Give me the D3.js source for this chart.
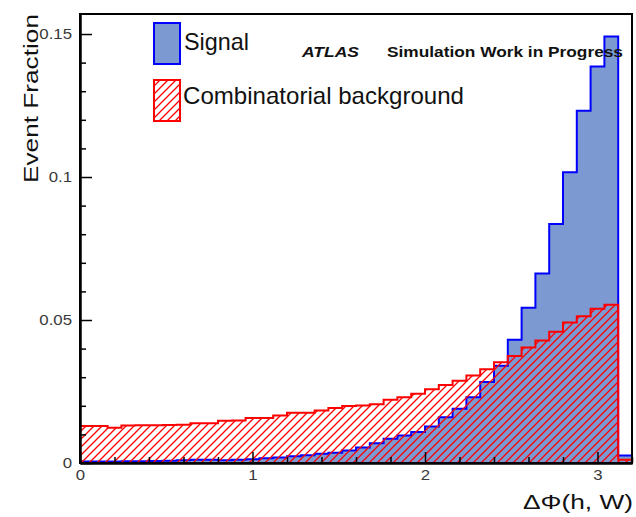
<!DOCTYPE html>
<html>
<head>
<meta charset="utf-8">
<script src="https://cdn.jsdelivr.net/npm/d3@7"></script>
<style>
  html, body { margin: 0; padding: 0; background: #fff; }
  svg { display: block; font-family: "Liberation Sans", Arial, Helvetica, sans-serif; }
</style>
</head>
<body>
<svg id="chart" width="636" height="517"></svg>
<script>
// Histogram binning: 40 bins of width 0.08 over [0, 3.2]
const xMin = 0;
const xMax = 3.2;
const nBins = 40;

// Normalised event fraction per bin, signal (h + W correctly paired)
const signalFrac = [
  0.0005, 0.0005, 0.0005, 0.0006, 0.0006, 0.0007, 0.0008, 0.0010, 0.0011, 0.0011,
  0.0010, 0.0011, 0.0013, 0.0017, 0.0019, 0.0024, 0.0027, 0.0032, 0.0036, 0.0044,
  0.0054, 0.0069, 0.0085, 0.0096, 0.0108, 0.0128, 0.0160, 0.0190, 0.0230, 0.0283,
  0.0340, 0.0431, 0.0543, 0.0663, 0.0836, 0.1017, 0.1232, 0.1386, 0.1491, 0.0026
];

// Normalised event fraction per bin, combinatorial background
const backgroundFrac = [
  0.0129, 0.0129, 0.0123, 0.0131, 0.0132, 0.0132, 0.0133, 0.0134, 0.0139, 0.0139,
  0.0148, 0.0149, 0.0157, 0.0157, 0.0166, 0.0176, 0.0176, 0.0184, 0.0192, 0.0199,
  0.0201, 0.0205, 0.0221, 0.0230, 0.0242, 0.0258, 0.0273, 0.0288, 0.0306, 0.0328,
  0.0352, 0.0374, 0.0404, 0.0428, 0.0459, 0.0491, 0.0513, 0.0539, 0.0553, 0.0011
];

// Axis ticks and labels
const xMajorTicks = [0, 1, 2, 3];
const xMajorLabels = ["0", "1", "2", "3"];
const xMinorTicks = [0.2, 0.4, 0.6, 0.8, 1.2, 1.4, 1.6, 1.8, 2.2, 2.4, 2.6, 2.8, 3.2];
const yMajorTicks = [0, 0.05, 0.1, 0.15];
const yMajorLabels = ["0", "0.05", "0.1", "0.15"];
const yMinorTicks = [0.01, 0.02, 0.03, 0.04, 0.06, 0.07, 0.08, 0.09, 0.11, 0.12, 0.13, 0.14];

const legendLabels = ["Signal", "Combinatorial background"];
const xTitle = "\u0394\u03A6(h, W)";
const yTitle = "Event Fraction";

// ---------------------------------------------------------------
const svg = d3.select("#chart");
const frame = { left: 80, right: 632, top: 14, bottom: 463 };

const x = d3.scaleLinear().domain([xMin, xMax]).range([frame.left, frame.right]);
const y = d3.scaleLinear().domain([0, 0.157]).range([frame.bottom, frame.top]);

const binWidth = (xMax - xMin) / nBins;

// red diagonal hatch used by the background histogram
const defs = svg.append("defs");
const hatch = defs.append("pattern")
  .attr("id", "hatch")
  .attr("patternUnits", "userSpaceOnUse")
  .attr("width", 8).attr("height", 8);
hatch.append("path")
  .attr("d", "M-2,2 L2,-2 M0,8 L8,0 M6,10 L10,6")
  .attr("stroke", "#ff0000")
  .attr("stroke-width", 1.3)
  .attr("fill", "none");

// step outline through the bins, starting and ending on the baseline
function stepPoints(values) {
  const pts = [[xMin, 0]];
  values.forEach((v, i) => pts.push([xMin + i * binWidth, v]));
  pts.push([xMax, values[values.length - 1]]);
  pts.push([xMax, 0]);
  return pts;
}
const stepLine = d3.line()
  .x(d => x(d[0]))
  .y(d => y(d[1]))
  .curve(d3.curveStepAfter);

const plot = svg.append("g");

// signal histogram
plot.append("path")
  .attr("d", stepLine(stepPoints(signalFrac)) + "Z")
  .attr("fill", "#7d99d1")
  .attr("stroke", "none");
plot.append("path")
  .attr("d", stepLine(stepPoints(signalFrac)))
  .attr("fill", "none")
  .attr("stroke", "#0000ff")
  .attr("stroke-width", 2);

// combinatorial background histogram (hatched, drawn over the signal)
plot.append("path")
  .attr("d", stepLine(stepPoints(backgroundFrac)) + "Z")
  .attr("fill", "url(#hatch)")
  .attr("stroke", "none");
plot.append("path")
  .attr("d", stepLine(stepPoints(backgroundFrac)))
  .attr("fill", "none")
  .attr("stroke", "#ff0000")
  .attr("stroke-width", 2);

// stretch a text element horizontally along its baseline
function stretch(sel, factor) {
  sel.each(function () {
    const len = this.getComputedTextLength();
    d3.select(this)
      .attr("textLength", len * factor)
      .attr("lengthAdjust", "spacingAndGlyphs");
  });
}

// axes (ticks point into the frame)
const yAxis = d3.axisLeft(y)
  .tickValues(yMajorTicks)
  .tickFormat((d, i) => yMajorLabels[i])
  .tickSizeInner(-12).tickSizeOuter(0).tickPadding(8);
const yMinor = d3.axisLeft(y)
  .tickValues(yMinorTicks).tickFormat("")
  .tickSizeInner(-6).tickSizeOuter(0);
const xAxis = d3.axisBottom(x)
  .tickValues(xMajorTicks)
  .tickFormat((d, i) => xMajorLabels[i])
  .tickSizeInner(-11).tickSizeOuter(0).tickPadding(7);
const xMinor = d3.axisBottom(x)
  .tickValues(xMinorTicks).tickFormat("")
  .tickSizeInner(-6).tickSizeOuter(0);

function styleAxis(g) {
  g.select(".domain").attr("stroke", "#000").attr("stroke-width", 2);
  g.selectAll(".tick line").attr("stroke", "#000").attr("stroke-width", 1.5);
  g.selectAll(".tick text")
    .attr("fill", "#3a3a3a")
    .attr("font-size", 14)
    .attr("font-family", "Liberation Sans, Arial, sans-serif");
}

const gy = svg.append("g").attr("transform", `translate(${frame.left},0)`).call(yAxis).call(styleAxis);
svg.append("g").attr("transform", `translate(${frame.left},0)`).call(yMinor).call(styleAxis);
const gx = svg.append("g").attr("transform", `translate(0,${frame.bottom})`).call(xAxis).call(styleAxis);
svg.append("g").attr("transform", `translate(0,${frame.bottom})`).call(xMinor).call(styleAxis);
stretch(gy.selectAll(".tick text"), 1.2);
stretch(gx.selectAll(".tick text"), 1.2);

// frame
svg.append("rect")
  .attr("x", frame.left).attr("y", frame.top)
  .attr("width", frame.right - frame.left)
  .attr("height", frame.bottom - frame.top)
  .attr("fill", "none")
  .attr("stroke", "#000")
  .attr("stroke-width", 2);

// axis titles
svg.append("text")
  .attr("transform", `translate(38,${frame.top}) rotate(-90)`)
  .attr("text-anchor", "end")
  .attr("font-size", 21)
  .attr("fill", "#111")
  .attr("textLength", 169)
  .attr("lengthAdjust", "spacingAndGlyphs")
  .text(yTitle);

svg.append("text")
  .attr("x", 633).attr("y", 509)
  .attr("text-anchor", "end")
  .attr("font-size", 20)
  .attr("fill", "#111")
  .attr("textLength", 110)
  .attr("lengthAdjust", "spacingAndGlyphs")
  .text(xTitle);

// legend
const legend = svg.append("g");
legend.append("rect")
  .attr("x", 154).attr("y", 23).attr("width", 26).attr("height", 41)
  .attr("fill", "#7d99d1").attr("stroke", "#0000ff").attr("stroke-width", 2);
legend.append("rect")
  .attr("x", 154).attr("y", 80).attr("width", 26).attr("height", 41)
  .attr("fill", "#fff").attr("stroke", "none");
legend.append("rect")
  .attr("x", 154).attr("y", 80).attr("width", 26).attr("height", 41)
  .attr("fill", "url(#hatch)").attr("stroke", "#ff0000").attr("stroke-width", 2);
legend.append("text")
  .attr("x", 184).attr("y", 50)
  .attr("font-size", 24).attr("fill", "#111")
  .attr("textLength", 65).attr("lengthAdjust", "spacingAndGlyphs")
  .text(legendLabels[0]);
legend.append("text")
  .attr("x", 183).attr("y", 104)
  .attr("font-size", 24).attr("fill", "#111")
  .attr("textLength", 281).attr("lengthAdjust", "spacingAndGlyphs")
  .text(legendLabels[1]);

// experiment label
svg.append("text")
  .attr("x", 302).attr("y", 57)
  .attr("font-size", 14).attr("font-weight", "bold").attr("font-style", "italic")
  .attr("fill", "#111")
  .attr("textLength", 57).attr("lengthAdjust", "spacingAndGlyphs")
  .text("ATLAS");
svg.append("text")
  .attr("x", 387).attr("y", 57)
  .attr("font-size", 14).attr("font-weight", "bold")
  .attr("fill", "#111")
  .attr("textLength", 236).attr("lengthAdjust", "spacingAndGlyphs")
  .text("Simulation Work in Progress");
</script>
</body>
</html>
